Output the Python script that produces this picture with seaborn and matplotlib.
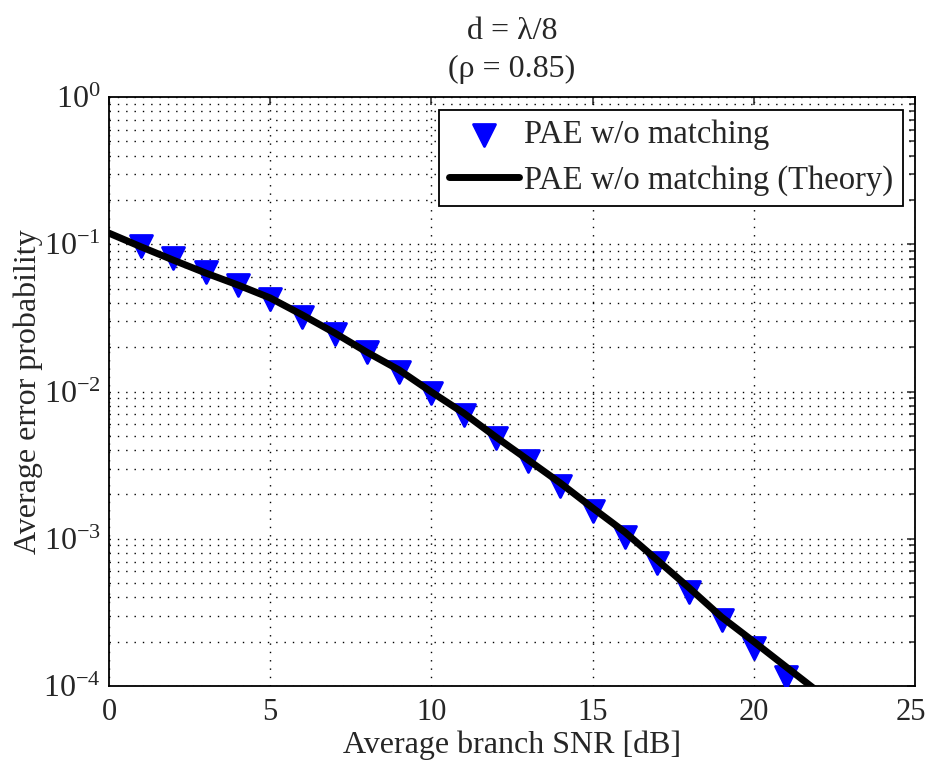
import numpy as np
import pandas as pd
import matplotlib
matplotlib.use("Agg")
import matplotlib.pyplot as plt
import matplotlib.transforms as mtransforms
import seaborn as sns
from matplotlib.ticker import LogLocator, NullFormatter, FixedLocator

# Data
sim_snr = [1, 2, 3, 4, 5, 6, 7, 8, 9, 10, 11, 12, 13, 14, 15, 16, 17, 18, 19, 20, 21]
sim_pe = [0.0973, 0.0807, 0.0648, 0.0529, 0.0425, 0.0321, 0.0246, 0.0185, 0.01356, 0.00977,
          0.00692, 0.00483, 0.00337, 0.00228, 0.00154, 0.00103, 0.000685, 0.000435,
          0.000281, 0.000181, 0.000115]
th_snr = [0, 1, 2, 3, 4, 5, 6, 7, 8, 9, 10, 11, 12, 13, 14, 15, 16, 17, 18, 19, 20, 21, 22]
th_pe = [0.119, 0.096, 0.078, 0.0638, 0.0529, 0.0432, 0.0331, 0.0250, 0.0185, 0.0140,
         0.00993, 0.00714, 0.00491, 0.00343, 0.00239, 0.00162, 0.00111, 0.000718,
         0.000463, 0.000294, 0.000200, 0.000135, 0.0000912]
xticks = [0, 5, 10, 15, 20, 25]
yticks = [1e-4, 1e-3, 1e-2, 1e-1, 1]
ytick_labels = [r"$10^{-4}$", r"$10^{-3}$", r"$10^{-2}$", r"$10^{-1}$", r"$10^{0}$"]

sns.set_style("white")
plt.rcParams['font.family'] = ['Liberation Serif', 'DejaVu Serif']
plt.rcParams['mathtext.fontset'] = 'custom'
plt.rcParams['mathtext.rm'] = 'Liberation Serif'
plt.rcParams['mathtext.it'] = 'Liberation Serif:italic'
plt.rcParams['mathtext.default'] = 'regular'

fig = plt.figure(figsize=(9.29, 7.64), dpi=100)
ax = fig.add_axes([0.1173, 0.1021, 0.8676, 0.7709])

sim_df = pd.DataFrame({"snr": sim_snr, "pe": sim_pe})
th_df = pd.DataFrame({"snr": th_snr, "pe": th_pe})

sns.scatterplot(data=sim_df, x="snr", y="pe", ax=ax, marker="v", s=250,
                color="#0000ff", edgecolor="#0000ff", linewidth=2.0,
                label="PAE w/o matching", zorder=3)
sns.lineplot(data=th_df, x="snr", y="pe", ax=ax, color="black", linewidth=5,
             label="PAE w/o matching (Theory)", zorder=4)

ax.set_yscale("log")
ax.set_xlim(0, 25)
ax.set_ylim(1e-4, 1)
ax.set_xticks(xticks)
ax.set_xticklabels([str(t) for t in xticks])
ax.yaxis.set_major_locator(FixedLocator(yticks))
ax.set_yticklabels(ytick_labels)
ax.yaxis.set_minor_locator(LogLocator(base=10, subs=np.arange(2, 10), numticks=20))
ax.yaxis.set_minor_formatter(NullFormatter())

ax.grid(True, which="major", axis="both", linestyle=(0, (1, 5)), color="black", linewidth=1.0)
ax.grid(True, which="minor", axis="y", linestyle=(0, (1, 5)), color="black", linewidth=1.0)
ax.tick_params(which="both", direction="in", top=True, right=True)
ax.tick_params(axis="x", pad=9, labelsize=22)
ax.tick_params(axis="y", pad=6, labelsize=23)
ax.tick_params(which="major", length=6, width=1.1)
ax.tick_params(which="minor", length=4, width=1.1)
for sp in ax.spines.values():
    sp.set_color("black")
    sp.set_linewidth(1.3)

# nudge the last x tick label slightly left so it stays inside the figure
last = ax.get_xticklabels()[-1]
last.set_transform(last.get_transform() +
                   mtransforms.ScaledTranslation(-4 / 100, 0, fig.dpi_scale_trans))

ax.set_xlabel("Average branch SNR [dB]", fontsize=23, labelpad=2)
ax.set_ylabel("Average error probability", fontsize=23, labelpad=0)
ax.set_title("d = λ/8\n(ρ = 0.85)", fontsize=23, pad=14.5, linespacing=1.4)

leg = ax.legend(loc="upper right", bbox_to_anchor=(0.985, 0.978), fontsize=23.5,
                frameon=True, fancybox=False, edgecolor="black", framealpha=1,
                borderpad=0.3, handlelength=2.15, handletextpad=0.15,
                labelspacing=0.45, borderaxespad=0.0)
leg.get_frame().set_linewidth(1.3)

fig.savefig("out.png", dpi=100)
